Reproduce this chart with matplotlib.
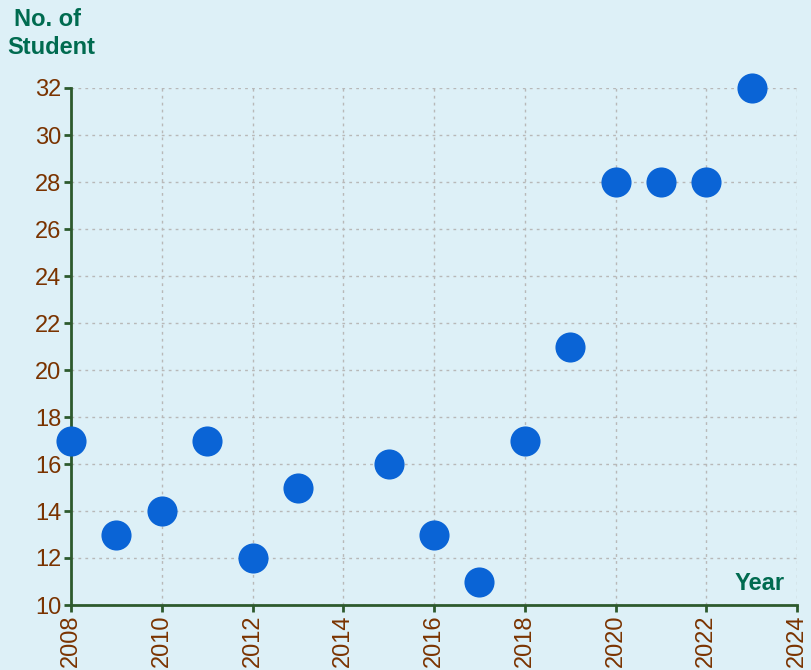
import matplotlib
matplotlib.use("Agg")
import matplotlib.pyplot as plt

years = [2008, 2009, 2010, 2011, 2012, 2013, 2015, 2016, 2017, 2018, 2019, 2020, 2021, 2022, 2023]
students = [17, 13, 14, 17, 12, 15, 16, 13, 11, 17, 21, 28, 28, 28, 32]
x_ticks = list(range(2008, 2025, 2))
y_ticks = list(range(10, 33, 2))

plt.rcParams['font.family'] = ['Liberation Sans', 'DejaVu Sans']
bg = '#ddf0f7'
fig = plt.figure(figsize=(8.11, 6.70), dpi=100, facecolor=bg)
ax = fig.add_axes([71/811, 1-605/670, (797-71)/811, (605-88)/670], facecolor=bg)

ax.scatter(years, students, s=470, color='#0a64d6', zorder=3, clip_on=False, linewidths=0)
ax.set_xlim(2008, 2024)
ax.set_ylim(10, 32)
ax.set_xticks(x_ticks)
ax.set_yticks(y_ticks)
ax.set_xticklabels([str(t) for t in x_ticks], rotation=90)
ax.grid(True, linestyle=(0, (2, 3)), color='#b8b8b8', linewidth=1)
ax.set_axisbelow(True)
for s in ['top', 'right']:
    ax.spines[s].set_visible(False)
for s in ['left', 'bottom']:
    ax.spines[s].set_color('#2d5a2d')
    ax.spines[s].set_linewidth(2)
ax.tick_params(axis='both', colors='#2d5a2d', width=2, length=5, labelsize=17, labelcolor='#7a3300', pad=2)

fig.text(48/811, 1-20/670, 'No. of', ha='center', va='center', fontsize=17, fontweight='bold', color='#006b50')
fig.text(51/811, 1-48/670, 'Student', ha='center', va='center', fontsize=17, fontweight='bold', color='#006b50')
fig.text(785/811, 1-584/670, 'Year', ha='right', va='center', fontsize=17, fontweight='bold', color='#006b50')

fig.savefig('out.png', dpi=100, facecolor=bg)
